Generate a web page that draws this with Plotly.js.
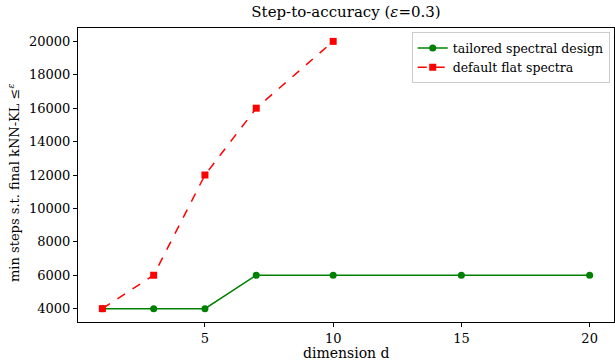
<!DOCTYPE html>
<html>
<head>
<meta charset="utf-8">
<script src="https://cdn.plot.ly/plotly-3.0.1.min.js"></script>
<style>html,body{margin:0;padding:0;background:#fff;}</style>
</head>
<body>
<div id="chart" style="width:615px;height:360px;"></div>
<script>
const dims = [1, 3, 5, 7, 10, 15, 20];
const tailoredSteps = [4000, 4000, 4000, 6000, 6000, 6000, 6000];
const flatDims = [1, 3, 5, 7, 10];
const flatSteps = [4000, 6000, 12000, 16000, 20000];
const xTicks = [5, 10, 15, 20];
const yTicks = [4000, 6000, 8000, 10000, 12000, 14000, 16000, 18000, 20000];
const yTickLabels = ["4000", "6000", "8000", "10000", "12000", "14000", "16000", "18000", "20000"];

const font = "DejaVu Serif, serif";

const traces = [
  {
    x: dims, y: tailoredSteps, name: "tailored spectral design",
    mode: "lines+markers", type: "scatter",
    line: {color: "green", width: 1.5},
    marker: {color: "green", size: 7, symbol: "circle"}
  },
  {
    x: flatDims, y: flatSteps, name: "default flat spectra",
    mode: "lines+markers", type: "scatter",
    line: {color: "red", width: 1.5, dash: "dash"},
    marker: {color: "red", size: 7, symbol: "square"}
  }
];

const layout = {
  width: 615, height: 360,
  margin: {l: 78, r: 1, t: 28, b: 38},
  paper_bgcolor: "#fff", plot_bgcolor: "#fff",
  font: {family: font, size: 13, color: "#000"},
  title: {text: "Step-to-accuracy (<i>ε</i>=0.3)", font: {family: font, size: 15, color: "#000"},
          x: 0.5, xref: "paper", y: 1, yref: "container", yanchor: "top", pad: {t: 6}},
  xaxis: {
    range: [0.05, 20.95], tickvals: xTicks, ticks: "outside", ticklen: 4, tickcolor: "#000",
    showgrid: false, zeroline: false, showline: true, mirror: true, linecolor: "#000", linewidth: 1,
    tickfont: {family: font, size: 13}
  },
  yaxis: {
    range: [3200, 20800], tickvals: yTicks, ticktext: yTickLabels, ticks: "outside", ticklen: 4, tickcolor: "#000",
    showgrid: false, zeroline: false, showline: true, mirror: true, linecolor: "#000", linewidth: 1,
    tickfont: {family: font, size: 13}
  },
  annotations: [
    {text: "dimension d", xref: "paper", yref: "paper", x: 0.5, y: 0,
     xanchor: "center", yanchor: "top", yshift: -21, showarrow: false,
     font: {family: font, size: 14, color: "#000"}},
    {text: "min steps s.t. final kNN-KL ≤<sup><i>ε</i></sup>", xref: "paper", yref: "paper", x: 0, y: 0.5,
     xanchor: "center", yanchor: "middle", xshift: -64, yshift: -8, textangle: -90, showarrow: false,
     font: {family: font, size: 13, color: "#000"}}
  ],
  legend: {
    x: 0.992, y: 0.985, xanchor: "right", yanchor: "top",
    bgcolor: "rgba(255,255,255,0.8)", bordercolor: "#ccc", borderwidth: 1,
    font: {family: font, size: 12.5}, tracegroupgap: 0
  },
  showlegend: true
};

Plotly.newPlot("chart", traces, layout, {displayModeBar: false, staticPlot: true});
</script>
</body>
</html>
